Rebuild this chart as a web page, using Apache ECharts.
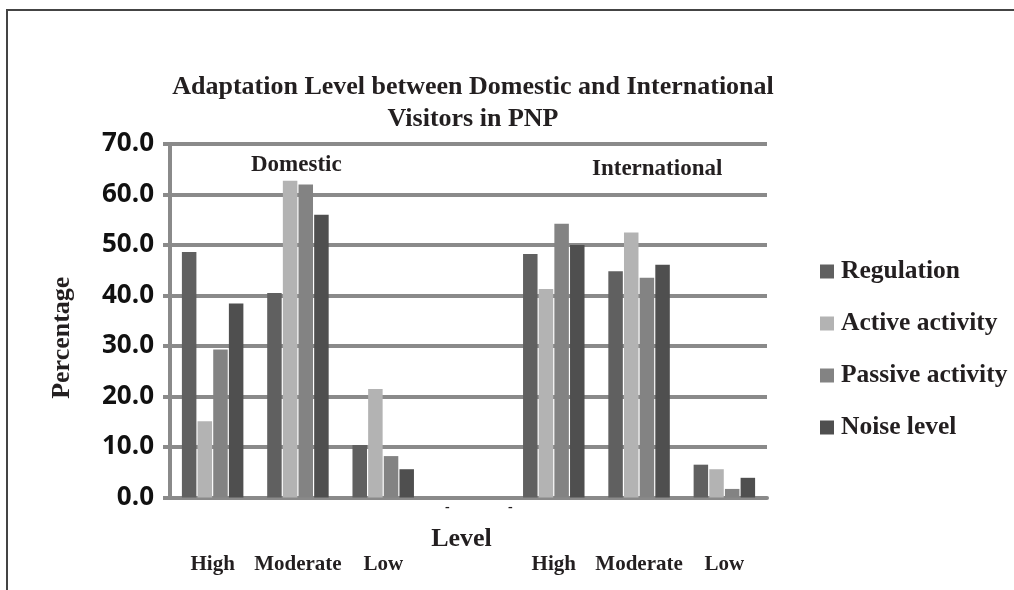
<!DOCTYPE html>
<html>
<head>
<meta charset="utf-8">
<script src="https://cdn.jsdelivr.net/npm/echarts@6/dist/echarts.min.js"></script>
<style>html,body{margin:0;padding:0;background:#fff;}#c{width:1014px;height:590px;}</style>
</head>
<body>
<div id="c"></div>
<script>
const categories = ['High', 'Moderate', 'Low', '', 'High ', 'Moderate ', 'Low '];
const seriesNames = ['Regulation', 'Active activity', 'Passive activity', 'Noise level'];
const regulation = [48.6, 40.5, 10.4, null, 48.2, 44.8, 6.5];
const activeActivity = [15.1, 62.7, 21.5, null, 41.3, 52.5, 5.6];
const passiveActivity = [29.3, 62.0, 8.2, null, 54.2, 43.5, 1.7];
const noiseLevel = [38.4, 56.0, 5.6, null, 50.0, 46.1, 3.9];
const yTicks = [0, 10, 20, 30, 40, 50, 60, 70];
const groupLabels = ['Domestic', 'International'];

const colors = ['#606060', '#b3b3b3', '#838383', '#4f4f4f'];
const values = [regulation, activeActivity, passiveActivity, noiseLevel];
const serif = '"Liberation Serif", "Times New Roman", serif';

const chart = echarts.init(document.getElementById('c'), null, {renderer: 'canvas'});
chart.setOption({
  animation: false,
  title: {
    text: 'Adaptation Level between Domestic and International\nVisitors in PNP',
    left: 468, top: 66, textAlign: 'center',
    textStyle: {fontFamily: serif, fontWeight: 'bold', fontSize: 26, lineHeight: 32, color: '#231f20'}
  },
  legend: {
    orient: 'vertical', left: 815, top: 251,
    itemWidth: 14, itemHeight: 14, itemGap: 21,
    icon: 'rect',
    data: seriesNames,
    textStyle: {fontFamily: serif, fontWeight: 'bold', fontSize: 25.5, color: '#231f20', lineHeight: 31, padding: [0, 0, 0, 2]}
  },
  grid: {left: 170, right: 247, top: 144, bottom: 92.5, containLabel: false},
  xAxis: {
    type: 'category', data: categories,
    name: 'Level', nameLocation: 'middle', nameGap: 29, nameMoveOverlap: false,
    nameTextStyle: {fontFamily: serif, fontWeight: 'bold', fontSize: 26, color: '#231f20', padding: [0, 14, 0, 0]},
    axisLine: {lineStyle: {color: '#8a8a8a', width: 4}},
    axisTick: {show: false},
    axisLabel: {interval: 0, margin: 57, fontFamily: serif, fontWeight: 'bold', fontSize: 21, color: '#231f20',
      formatter: v => v.trim()}
  },
  yAxis: {
    type: 'value', min: 0, max: 70, interval: 10,
    name: 'Percentage', nameLocation: 'middle', nameRotate: 90, nameGap: 95,
    nameTextStyle: {fontFamily: serif, fontWeight: 'bold', fontSize: 26, color: '#231f20', padding: [0, 34, 0, 0]},
    axisLine: {show: true, lineStyle: {color: '#8a8a8a', width: 4}},
    axisTick: {show: true, length: 7, lineStyle: {color: '#8a8a8a', width: 4}},
    splitLine: {lineStyle: {color: '#8a8a8a', width: 4}},
    axisLabel: {margin: 16, fontFamily: '"Open Sans", "DejaVu Sans", sans-serif', fontWeight: 'bold', fontSize: 26, color: '#111',
      formatter: v => yTicks.includes(v) ? v.toFixed(1) : ''}
  },
  series: seriesNames.map((n, i) => ({
    name: n, type: 'bar', data: values[i],
    barWidth: 14.5, barGap: '8%',
    itemStyle: {color: colors[i]}
  })),
  graphic: [
    {type: 'line', shape: {x1: 6, y1: 10, x2: 1014, y2: 10}, style: {stroke: '#444', lineWidth: 2}},
    {type: 'line', shape: {x1: 7, y1: 10, x2: 7, y2: 590}, style: {stroke: '#444', lineWidth: 2}},
    {type: 'text', left: 251, top: 154, style: {text: groupLabels[0], font: 'bold 23px ' + serif, fill: '#231f20'}},
    {type: 'text', left: 592, top: 158, style: {text: groupLabels[1], font: 'bold 23px ' + serif, fill: '#231f20'}},
    {type: 'text', left: 445, top: 500, style: {text: '-', font: 'bold 14px ' + serif, fill: '#231f20'}},
    {type: 'text', left: 508, top: 500, style: {text: '-', font: 'bold 14px ' + serif, fill: '#231f20'}}
  ]
});
</script>
</body>
</html>
